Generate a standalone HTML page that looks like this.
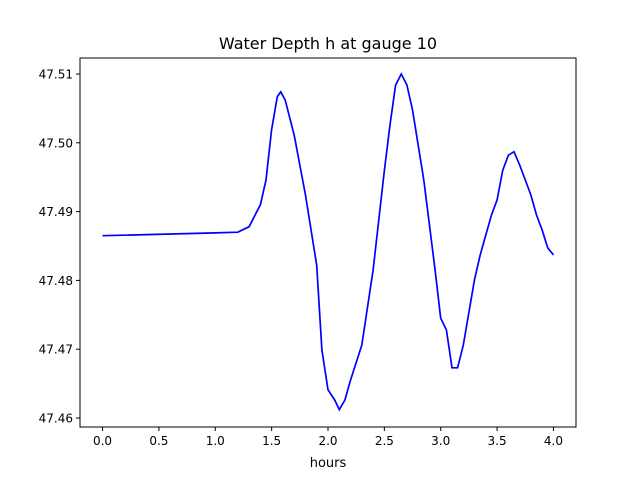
<!DOCTYPE html>
<html><head><meta charset="utf-8"><style>
body{margin:0;background:#fff;font-family:"Liberation Sans","DejaVu Sans",sans-serif}
svg text{font-family:"DejaVu Sans","Liberation Sans",sans-serif}
</style></head><body>
<svg id="chart" width="640" height="480" xmlns="http://www.w3.org/2000/svg">
<rect width="640" height="480" fill="#fff"/>
<text x="328" y="49" font-size="16" text-anchor="middle">Water Depth h at gauge 10</text>
<g id="ticks"></g>
<path id="line" fill="none" stroke="#0000ff" stroke-width="1.7"/>
<rect x="80" y="58" width="496" height="369" fill="none" stroke="#000" stroke-width="1"/>
<text x="328" y="467" font-size="13" text-anchor="middle">hours</text>
</svg>
<script>
const hours=[0,1.0,1.2,1.3,1.4,1.45,1.5,1.55,1.58,1.62,1.7,1.8,1.9,1.946,2.0,2.06,2.1,2.15,2.2,2.3,2.4,2.5,2.55,2.6,2.65,2.7,2.75,2.85,2.95,3.0,3.05,3.1,3.15,3.2,3.3,3.35,3.4,3.45,3.5,3.55,3.6,3.65,3.7,3.75,3.8,3.85,3.9,3.95,4.0];
const depth=[47.4865,47.4869,47.4870,47.4878,47.4910,47.4946,47.5019,47.5067,47.5074,47.5062,47.5011,47.4924,47.4822,47.4699,47.4641,47.4626,47.4612,47.4626,47.4655,47.4706,47.4815,47.4960,47.5026,47.5084,47.5100,47.5084,47.5048,47.4946,47.4815,47.4745,47.4728,47.4673,47.4673,47.4706,47.4801,47.4837,47.4866,47.4895,47.4917,47.4960,47.4982,47.4987,47.4968,47.4946,47.4924,47.4895,47.4873,47.4847,47.4837];
const xTicks=[0,0.5,1.0,1.5,2.0,2.5,3.0,3.5,4.0];
const xTickLabels=["0.0","0.5","1.0","1.5","2.0","2.5","3.0","3.5","4.0"];
const yTicks=[47.46,47.47,47.48,47.49,47.50,47.51];
const yTickLabels=["47.46","47.47","47.48","47.49","47.50","47.51"];
const L=80,R=576,T=58,B=427;
const x=v=>L+(v+0.2)/4.4*(R-L);
const y=v=>418-(v-47.46)*6880;
const NS="http://www.w3.org/2000/svg";
const g=document.getElementById('ticks');
function mk(tag,attrs){const e=document.createElementNS(NS,tag);for(const k in attrs)e.setAttribute(k,attrs[k]);g.appendChild(e);return e;}
xTicks.forEach((t,i)=>{
  const l=mk('line',{x1:x(t),x2:x(t),y1:B,y2:B+4,stroke:'#000'});
  
  
  const tx=mk('text',{x:x(t),y:B+18,'font-size':12,'text-anchor':'middle'});
  tx.textContent=xTickLabels[i];
  
  
});
yTicks.forEach((t,i)=>{
  const l=mk('line',{x1:L-4,x2:L,y1:y(t),y2:y(t),stroke:'#000'});
  
  
  const tx=mk('text',{x:L-7,y:y(t)+4.5,'font-size':12,'text-anchor':'end'});
  tx.textContent=yTickLabels[i];
  
  
});
document.getElementById('line').setAttribute('d',hours.map((h,i)=>(i?'L':'M')+x(h).toFixed(1)+','+y(depth[i]).toFixed(1)).join(''));
</script>
</body></html>
